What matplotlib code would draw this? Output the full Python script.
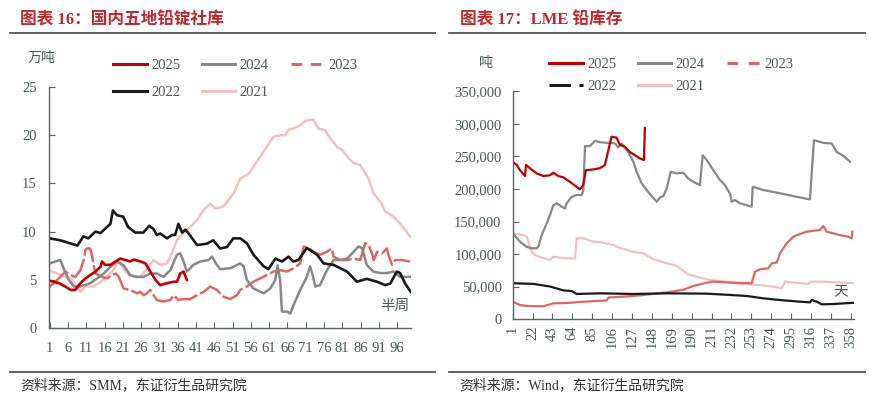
from matplotlib import pyplot as plt
from matplotlib.lines import Line2D
from matplotlib.ticker import FuncFormatter

# ---- left chart: domestic lead ingot social inventory (10k t), half-week index ----
x25_l = [1, 2.1, 3.5, 5.3, 6.7, 8.0, 9.4, 10.8, 12.1, 13.5, 14.9, 15.3, 16.2, 17.6, 19.0, 20.3,
         21.7, 23.0, 24.0, 25.8, 27.2, 28.5, 29.9, 31.2, 33.1, 34.9, 35.8, 36.7, 37.6, 38.5]
y25_l = [4.9, 4.8, 4.65, 4.3, 3.95, 3.95, 4.65, 5.15, 5.5, 5.85, 6.35, 6.9, 6.55, 6.55, 6.9, 7.2,
         7.05, 6.9, 7.1, 6.9, 6.7, 5.85, 5.0, 4.45, 4.65, 4.8, 4.8, 5.65, 5.85, 5.0]

x24_l = [1, 2.6, 3.9, 4.8, 6.2, 7.6, 9.4, 12.1, 14.0, 15.8, 17.6, 19.4, 21.2, 23.0, 24.9, 26.7,
         28.5, 30.3, 32.1, 34.0, 35.8, 36.7, 37.6, 38.5, 40.3, 42.2, 44.4, 45.4, 46.7, 47.6, 50.4,
         53.1, 54.0, 54.9, 56.7, 59.5, 61.3, 62.7, 63.3, 64.0, 64.5, 65.9, 66.8, 67.7, 69.5, 71.3,
         72.2, 72.9, 73.6, 74.9, 76.8, 78.6, 80.4, 82.3, 84.1, 85.4, 86.4, 87.7, 89.5, 91.4, 93.2,
         95.0, 96.8, 99.5]
y24_l = [6.7, 6.9, 7.05, 6.2, 5.0, 4.3, 4.3, 4.65, 5.15, 5.65, 6.35, 6.9, 6.5, 5.5, 5.3, 5.3,
         5.65, 5.65, 5.3, 6.0, 7.6, 7.75, 6.9, 5.85, 6.55, 6.9, 7.05, 7.4, 6.55, 6.1, 6.2,
         6.7, 6.4, 5.0, 4.1, 3.6, 4.1, 5.0, 6.5, 5.0, 1.7, 1.7, 1.5, 2.4, 3.95, 5.3,
         6.4, 5.5, 4.3, 4.45, 6.0, 7.05, 7.05, 7.2, 7.9, 8.45, 8.3, 6.55, 5.85, 5.7, 5.7,
         5.85, 5.3, 5.3]

x23_l = [1, 2.6, 3.9, 5.3, 6.7, 8.0, 9.4, 10.3, 10.8, 11.2, 12.1, 12.6, 13.5, 15.3, 16.7, 18.0,
         19.0, 19.9, 21.2, 23.0, 24.9, 25.8, 26.7, 27.6, 28.5, 30.3, 32.1, 34.0, 34.9, 36.2, 37.6,
         39.4, 41.3, 43.1, 44.9, 46.7, 48.5, 50.4, 52.2, 53.1, 54.9, 56.7, 58.6, 60.4, 62.2, 64.1,
         65.9, 67.7, 69.5, 70.4, 71.8, 73.1, 74.9, 76.8, 78.1, 78.6, 80.4, 82.3, 84.1, 85.9, 87.3,
         88.2, 89.1, 89.6, 90.5, 91.9, 93.2, 93.6, 94.6, 95.5, 97.3, 99.5]
y23_l = [4.3, 4.8, 5.3, 5.85, 5.5, 5.3, 6.0, 7.05, 8.1, 8.25, 8.25, 7.4, 5.65, 5.3, 5.15, 5.5,
         5.65, 5.3, 4.1, 3.95, 3.6, 3.75, 3.4, 3.6, 3.95, 2.9, 2.75, 2.9, 3.4, 2.9, 3.0,
         3.0, 3.4, 3.75, 4.3, 3.95, 3.25, 3.0, 3.4, 3.95, 4.3, 4.8, 5.15, 5.5, 5.85, 6.0,
         5.85, 6.2, 6.7, 8.45, 8.3, 7.9, 7.6, 7.9, 8.25, 7.4, 7.05, 7.05, 7.2, 7.05, 8.8,
         8.6, 7.75, 7.05, 7.9, 7.75, 8.25, 7.6, 6.55, 7.05, 7.05, 6.9]

x22_l = [1, 3.9, 8.6, 10.2, 11.6, 13.5, 14.9, 17.6, 18.3, 19.4, 21.1, 22.4, 24.4, 26.6, 28.2,
         29.3, 30.3, 31.2, 33.1, 34.4, 35.3, 36.2, 37.2, 38.1, 38.9, 41.3, 44.0, 45.7, 47.6, 49.5,
         51.2, 53.1, 54.9, 56.7, 59.5, 60.8, 62.7, 64.5, 66.3, 67.6, 69.0, 71.3, 74.1, 75.9, 78.6,
         82.3, 85.0, 87.7, 90.5, 92.7, 94.1, 95.9, 96.8, 98.2, 99.7]
y22_l = [9.3, 9.1, 8.55, 9.5, 9.3, 10.0, 9.85, 10.8, 12.2, 11.7, 11.55, 10.5, 9.9, 9.9, 10.6,
         10.3, 9.65, 9.8, 9.3, 9.65, 9.65, 10.8, 9.9, 10.2, 9.85, 8.6, 8.75, 9.1, 8.25, 8.4,
         9.3, 9.3, 8.8, 7.6, 6.4, 6.1, 7.2, 6.9, 7.4, 6.9, 7.05, 8.3, 7.6, 6.7, 6.55,
         5.85, 4.8, 5.1, 4.8, 4.45, 4.6, 5.85, 5.7, 4.6, 3.75]

x21_l = [1, 3.9, 6.7, 9.4, 10.8, 13.0, 15.8, 18.0, 19.9, 21.2, 22.6, 24.0, 25.8, 27.6, 29.4,
         31.2, 33.1, 34.4, 35.8, 38.5, 41.3, 43.1, 44.9, 46.3, 48.5, 51.3, 53.1, 55.4, 58.6, 62.2,
         64.1, 65.4, 66.3, 67.7, 69.5, 70.9, 73.1, 74.5, 76.3, 77.7, 79.5, 80.9, 82.7, 84.1, 85.9,
         88.2, 89.5, 91.4, 92.7, 95.0, 96.8, 99.5]
y21_l = [5.95, 5.5, 5.15, 3.75, 4.3, 4.3, 5.0, 5.85, 6.9, 6.2, 5.5, 5.3, 5.3, 6.2, 7.05,
         6.55, 6.7, 7.75, 9.1, 10.15, 11.2, 12.25, 12.9, 12.4, 12.6, 14.0, 15.5, 16.0, 17.8, 19.85,
         20.0, 20.0, 20.6, 20.7, 21.05, 21.5, 21.6, 20.7, 20.5, 19.7, 18.8, 18.5, 17.6, 17.1, 16.9,
         15.5, 14.0, 13.1, 12.1, 11.55, 10.85, 9.5]

# ---- right chart: LME lead stocks (t), day index ----
x25_r = [1, 5.2, 8.7, 14.0, 15.0, 19.2, 26.3, 33.3, 40.3, 43.8, 49.1, 54.4, 61.4, 68.5, 72.0,
         75.5, 78.3, 86.0, 93.1, 98.4, 100.8, 105.4, 110.7, 114.2, 119.5, 124.8, 130.1, 135.4,
         139.6, 140.6]
y25_r = [242000, 237000, 229000, 220000, 237000, 232000, 224000, 220000, 221000, 225000, 220000,
         218000, 211000, 203500, 199500, 206000, 229000, 230000, 232000, 237000, 252000, 280500,
         279000, 268000, 265000, 257000, 252000, 247000, 244600, 294000]

x24_r = [1, 8.7, 15.8, 21.1, 26.3, 28.0, 31.6, 36.9, 40.4, 43.9, 47.5, 52.8, 56.2, 58.0, 63.3,
         68.6, 73.9, 75.6, 77.4, 82.6, 87.9, 93.2, 100.3, 105.6, 109.0, 112.5, 116.1, 123.1, 128.4,
         132.0, 137.2, 142.5, 147.8, 153.1, 156.6, 160.1, 163.7, 167.9, 174.2, 181.2, 186.5, 191.7,
         198.8, 201.7, 205.9, 212.9, 219.9, 225.2, 230.5, 232.3, 235.8, 241.1, 248.1, 253.4, 254.5,
         265.7, 283.3, 301.0, 315.0, 319.2, 329.0, 337.9, 343.2, 350.2, 357.3]
y24_r = [131800, 119000, 111000, 108800, 108800, 111000, 129000, 147000, 160000, 175000, 178000,
         172800, 170000, 178000, 188000, 190800, 190800, 198500, 266000, 266000, 274000, 272000,
         271000, 271000, 270000, 264000, 270000, 257000, 242000, 226600, 208700, 198500, 189000,
         180500, 187000, 189000, 201000, 226600, 224000, 225000, 216000, 211000, 206000, 252000,
         244600, 229000, 214000, 206000, 193000, 180500, 183000, 178000, 175000, 172800, 203500,
         198500, 193400, 188000, 184000, 275000, 271000, 270000, 257000, 251000, 242000]

x23_r = [1, 8.7, 15.8, 33.3, 43.9, 58.0, 75.6, 100.3, 102.0, 128.4, 146.0, 163.7, 181.2, 191.7,
         205.9, 212.9, 230.5, 253.4, 256.9, 262.2, 271.0, 274.6, 279.8, 283.3, 290.4, 297.4, 304.5,
         311.5, 325.6, 329.1, 332.6, 339.6, 346.7, 355.5, 359.1, 359.7]
y23_r = [26600, 21500, 20000, 19500, 24100, 24600, 26600, 28500, 33000, 35400, 38000, 41000,
         45000, 50800, 55800, 57400, 56000, 55000, 72800, 76500, 78000, 85700, 86700, 101000,
         116500, 126600, 130800, 134300, 137000, 143000, 134300, 131800, 129000, 126600, 124000,
         134300]

x22_r = [1, 22.8, 40.4, 54.4, 63.3, 68.6, 93.2, 128.4, 163.7, 205.9, 230.5, 248.1, 265.7, 283.3,
         301.0, 315.0, 316.8, 322.1, 327.4, 339.6, 360.7]
y22_r = [55000, 54000, 50000, 44000, 43000, 38500, 39500, 38500, 39500, 39000, 37000, 35400,
         31800, 29200, 27000, 25600, 29200, 26600, 22600, 23000, 25000]

x21_r = [1, 12.2, 15.8, 21.1, 26.3, 40.4, 43.9, 56.2, 66.8, 68.6, 75.6, 86.1, 93.2, 107.3, 110.8,
         128.4, 138.9, 149.5, 163.7, 174.2, 184.8, 188.3, 195.3, 209.4, 227.0, 241.1, 262.2, 276.2,
         285.1, 288.6, 304.5, 313.2, 315.8, 329.1, 361.0]
y21_r = [131800, 129000, 126600, 103000, 97000, 90800, 95800, 93500, 93000, 124000, 124000,
         119000, 118000, 114000, 111000, 103500, 101000, 92000, 85700, 82000, 70300, 67700, 65000,
         60000, 57400, 53800, 52300, 49700, 47200, 57400, 55000, 53800, 57400, 57400, 55000]

ticks_l = list(range(1, 97, 5))
ticks_r = list(range(1, 359, 21))

C25, C24, C23, C22, C21 = "#C00000", "#888888", "#E06666", "#1A1A1A", "#F4C0C0"
TXT = "#4A5858"
SERIF = ["Liberation Serif", "Noto Sans CJK SC"]
CJK = ["Noto Sans CJK SC", "DejaVu Sans"]

plt.rcParams["font.family"] = SERIF

fig = plt.figure(figsize=(8.71, 3.99), dpi=100)
W, H = 871., 399.


def fx(px):
    return px / W


def fy(py):
    return 1 - py / H


def style_axis(ax):
    for s in ["top", "right"]:
        ax.spines[s].set_visible(False)
    for s in ["left", "bottom"]:
        ax.spines[s].set_color("#5A6464")
        ax.spines[s].set_linewidth(1.0)
    ax.tick_params(direction="in", colors="#5A6464", labelcolor=TXT, labelsize=10.5, length=4)


# left panel
ax1 = fig.add_axes([fx(49.3), fy(328), fx(410.7 - 49.3), (328 - 87) / H])
ax1.plot(x21_l, y21_l, color=C21, lw=1.8)
ax1.plot(x23_l, y23_l, color=C23, lw=1.8, linestyle=(0, (10, 1.3)))
ax1.plot(x24_l, y24_l, color=C24, lw=1.8)
ax1.plot(x22_l, y22_l, color=C22, lw=1.9)
ax1.plot(x25_l, y25_l, color=C25, lw=1.9)
ax1.set_xlim(0.9, 99.7)
ax1.set_ylim(0, 25)
ax1.set_xticks(ticks_l)
ax1.set_yticks(range(0, 26, 5))
style_axis(ax1)
ax1.tick_params(axis="x", pad=10)
ax1.tick_params(axis="y", pad=9)
ax1.text(0.955, 0.09, "半周", transform=ax1.transAxes, ha="center", va="center",
         family=CJK, fontsize=10.5, color=TXT)

# right panel
ax2 = fig.add_axes([fx(512.7), fy(319), fx(854 - 512.7), (319 - 91.5) / H])
ax2.plot(x21_r, y21_r, color=C21, lw=1.6)
ax2.plot(x23_r, y23_r, color=C23, lw=1.6)
ax2.plot(x22_r, y22_r, color=C22, lw=1.6)
ax2.plot(x24_r, y24_r, color=C24, lw=1.6)
ax2.plot(x25_r, y25_r, color=C25, lw=1.6)
ax2.set_xlim(1, 361.5)
ax2.set_ylim(0, 350000)
ax2.set_xticks(ticks_r)
ax2.set_yticks(range(0, 350001, 50000))
ax2.yaxis.set_major_formatter(FuncFormatter(lambda v, p: f"{int(v):,}"))
style_axis(ax2)
ax2.tick_params(axis="x", labelrotation=90, pad=5)
ax2.tick_params(axis="y", pad=8)
ax2.text(0.96, 0.12, "天", transform=ax2.transAxes, ha="center", va="center",
         family=CJK, fontsize=10.5, color=TXT)

# legends (row-major look with 3 columns)
def make_legend(ax, anchor, dash23, dash22, spacing):
    h = {
        "2025": Line2D([], [], color=C25, lw=2.2),
        "2024": Line2D([], [], color=C24, lw=2.2),
        "2023": Line2D([], [], color=C23, lw=2.2, linestyle=dash23),
        "2022": Line2D([], [], color=C22, lw=2.2, linestyle=dash22),
        "2021": Line2D([], [], color=C21, lw=2.2),
    }
    order = ["2025", "2022", "2024", "2021", "2023"]
    leg = ax.legend([h[k] for k in order], order, ncol=3, frameon=False,
                    loc="upper left", bbox_to_anchor=anchor, bbox_transform=fig.transFigure,
                    borderpad=0, borderaxespad=0, handlelength=2.3, handletextpad=0.3,
                    columnspacing=1.5, labelspacing=spacing, fontsize=10.5)
    for t in leg.get_texts():
        t.set_color(TXT)


make_legend(ax1, (fx(113), fy(59)), (0, (3.5, 2.8)), "-", 0.95)
make_legend(ax2, (fx(549), fy(58)), (0, (3.5, 3.5)), (0, (7, 2.8)), 0.62)

# unit labels
fig.text(fx(41), fy(58), "万吨", ha="center", va="center", family=CJK, fontsize=10, color=TXT)
fig.text(fx(486), fy(63), "吨", ha="center", va="center", family=CJK, fontsize=10, color=TXT)

# headers, rules and sources
TITLE_C = "#C0282E"
fig.text(fx(20), fy(20), "图表 16：国内五地铅锭社库", ha="left", va="center",
         fontsize=12, color=TITLE_C, fontweight="bold")
fig.text(fx(460), fy(20), "图表 17：LME 铅库存", ha="left", va="center",
         fontsize=12, color=TITLE_C, fontweight="bold")
for x0, x1 in [(10, 435), (449, 865)]:
    for yy in [33, 372]:
        fig.add_artist(Line2D([fx(x0), fx(x1)], [fy(yy), fy(yy)], transform=fig.transFigure,
                              color="#555555", lw=1.3))
fig.text(fx(20), fy(385), "资料来源：SMM，东证衍生品研究院", ha="left", va="center",
         fontsize=10, color="#333333")
fig.text(fx(459), fy(385), "资料来源：Wind，东证衍生品研究院", ha="left", va="center",
         fontsize=10, color="#333333")

fig.savefig("out.png", dpi=100)
